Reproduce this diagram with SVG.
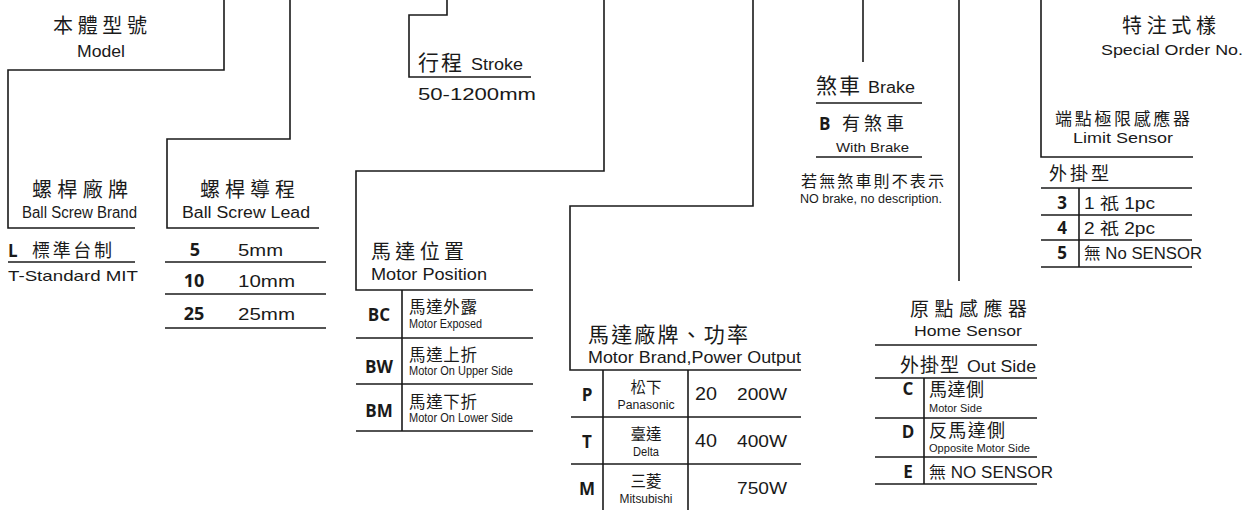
<svg xmlns="http://www.w3.org/2000/svg" width="1256" height="510" viewBox="0 0 1256 510">
<style>
text{font-family:"Liberation Sans","Noto Sans CJK TC",sans-serif;fill:#1a1a1a}
.cn{font-family:"Noto Sans CJK TC","Liberation Sans",sans-serif}
.b{font-family:"Open Sans","Liberation Sans",sans-serif;font-weight:700}
.m{text-anchor:middle}
.ln{stroke:#1a1a1a;stroke-width:1.6;fill:none}
</style>
<rect width="1256" height="510" fill="#fff"/>
<g id="connectors" class="ln">
<polyline points="224,0 224,70 8,70 8,228 135,228"/>
<polyline points="290,0 290,139 167,139 167,228 319,228"/>
<polyline points="447,0 447,15 409,15 409,77 531,77"/>
<polyline points="604,0 604,171 356,171 356,290 533,290"/>
<polyline points="753,0 753,206 570,206 570,370 801,370"/>
<line x1="863" y1="0" x2="863" y2="62"/>
<line x1="959" y1="0" x2="959" y2="281"/>
<polyline points="1041,0 1041,157 1193,157"/>
</g>
<g id="model">
<text class="cn" x="53" y="33" font-size="20" textLength="94">本體型號</text>
<text x="77" y="57" font-size="16" textLength="48" lengthAdjust="spacingAndGlyphs">Model</text>
</g>
<g id="screw-brand">
<text class="cn" x="32" y="197" font-size="20" textLength="96">螺桿廠牌</text>
<text x="22" y="218" font-size="16" textLength="115" lengthAdjust="spacingAndGlyphs">Ball Screw Brand</text>
<text class="b" x="8" y="257" font-size="17">L</text>
<text class="cn" x="32" y="257" font-size="18" textLength="80">標準台制</text>
<line class="ln" x1="8" y1="262" x2="135" y2="262"/>
<text x="8" y="281" font-size="15" textLength="130" lengthAdjust="spacingAndGlyphs">T-Standard MIT</text>
</g>
<g id="screw-lead">
<text class="cn" x="200" y="197" font-size="20" textLength="95">螺桿導程</text>
<text x="182" y="218" font-size="16" textLength="128" lengthAdjust="spacingAndGlyphs">Ball Screw Lead</text>
<text class="b m" x="195" y="256" font-size="18">5</text>
<text x="238" y="256" font-size="16" textLength="45" lengthAdjust="spacingAndGlyphs">5mm</text>
<line class="ln" x1="165" y1="262" x2="326" y2="262"/>
<text class="b m" x="194" y="287" font-size="18">10</text>
<text x="238" y="287" font-size="16" textLength="57" lengthAdjust="spacingAndGlyphs">10mm</text>
<line class="ln" x1="165" y1="294" x2="326" y2="294"/>
<text class="b m" x="194" y="320" font-size="18">25</text>
<text x="238" y="320" font-size="16" textLength="57" lengthAdjust="spacingAndGlyphs">25mm</text>
<line class="ln" x1="165" y1="328" x2="326" y2="328"/>
</g>
<g id="stroke">
<text class="cn" x="418" y="70" font-size="21" textLength="44">行程</text>
<text x="471" y="70" font-size="16" textLength="52" lengthAdjust="spacingAndGlyphs">Stroke</text>
<text x="418" y="100" font-size="17" textLength="118" lengthAdjust="spacingAndGlyphs">50-1200mm</text>
</g>
<g id="motor-position">
<text class="cn" x="371" y="259" font-size="20" textLength="93">馬達位置</text>
<text x="371" y="280" font-size="17" textLength="116" lengthAdjust="spacingAndGlyphs">Motor Position</text>
<g class="ln">
<line x1="356" y1="338" x2="533" y2="338"/>
<line x1="356" y1="384" x2="533" y2="384"/>
<line x1="356" y1="431" x2="533" y2="431"/>
<line x1="402" y1="290" x2="402" y2="431"/>
</g>
<text class="b m" x="379" y="321" font-size="17">BC</text>
<text class="cn" x="409" y="313" font-size="16.5" textLength="68">馬達外露</text>
<text x="409" y="328" font-size="12" textLength="73" lengthAdjust="spacingAndGlyphs">Motor Exposed</text>
<text class="b m" x="379" y="373" font-size="17">BW</text>
<text class="cn" x="409" y="361" font-size="16.5" textLength="68">馬達上折</text>
<text x="409" y="375" font-size="12" textLength="104" lengthAdjust="spacingAndGlyphs">Motor On Upper Side</text>
<text class="b m" x="379" y="417" font-size="17">BM</text>
<text class="cn" x="409" y="408" font-size="16.5" textLength="68">馬達下折</text>
<text x="409" y="422" font-size="12" textLength="104" lengthAdjust="spacingAndGlyphs">Motor On Lower Side</text>
</g>
<g id="motor-brand">
<text class="cn" x="588" y="342" font-size="21" textLength="160">馬達廠牌、功率</text>
<text x="588" y="363" font-size="17" textLength="213" lengthAdjust="spacingAndGlyphs">Motor Brand,Power Output</text>
<g class="ln">
<line x1="571" y1="417" x2="801" y2="417"/>
<line x1="571" y1="464" x2="801" y2="464"/>
<line x1="603" y1="370" x2="603" y2="510"/>
<line x1="688" y1="370" x2="688" y2="510"/>
</g>
<text class="b m" x="587" y="401" font-size="17">P</text>
<text class="cn m" x="646" y="393" font-size="16" textLength="31" lengthAdjust="spacingAndGlyphs">松下</text>
<text class="m" x="646" y="409" font-size="12" textLength="57" lengthAdjust="spacingAndGlyphs">Panasonic</text>
<text x="695" y="400" font-size="18" textLength="22" lengthAdjust="spacingAndGlyphs">20</text>
<text x="737" y="400" font-size="16" textLength="50" lengthAdjust="spacingAndGlyphs">200W</text>
<text class="b m" x="587" y="448" font-size="17">T</text>
<text class="cn m" x="646" y="440" font-size="16" textLength="31" lengthAdjust="spacingAndGlyphs">臺達</text>
<text class="m" x="646" y="456" font-size="12" textLength="26" lengthAdjust="spacingAndGlyphs">Delta</text>
<text x="695" y="447" font-size="18" textLength="22" lengthAdjust="spacingAndGlyphs">40</text>
<text x="737" y="447" font-size="16" textLength="50" lengthAdjust="spacingAndGlyphs">400W</text>
<text class="b m" x="587" y="495" font-size="17">M</text>
<text class="cn m" x="646" y="487" font-size="16" textLength="31" lengthAdjust="spacingAndGlyphs">三菱</text>
<text class="m" x="646" y="503" font-size="12" textLength="53" lengthAdjust="spacingAndGlyphs">Mitsubishi</text>
<text x="737" y="494" font-size="16" textLength="50" lengthAdjust="spacingAndGlyphs">750W</text>
</g>
<g id="brake">
<text class="cn" x="816" y="93" font-size="21" textLength="44">煞車</text>
<text x="868" y="93" font-size="16" textLength="47" lengthAdjust="spacingAndGlyphs">Brake</text>
<line class="ln" x1="816" y1="103" x2="922" y2="103"/>
<text class="b" x="819" y="130" font-size="17">B</text>
<text class="cn" x="842" y="130" font-size="18" textLength="62">有煞車</text>
<text x="836" y="152" font-size="13" textLength="73" lengthAdjust="spacingAndGlyphs">With Brake</text>
<line class="ln" x1="816" y1="157" x2="922" y2="157"/>
<text class="cn" x="801" y="187" font-size="16" textLength="143">若無煞車則不表示</text>
<text x="800" y="203" font-size="12" textLength="142" lengthAdjust="spacingAndGlyphs">NO brake, no description.</text>
</g>
<g id="home-sensor">
<text class="cn" x="910" y="316" font-size="19" textLength="117">原點感應器</text>
<text x="914" y="336" font-size="15" textLength="108" lengthAdjust="spacingAndGlyphs">Home Sensor</text>
<text class="cn" x="900" y="372" font-size="19" textLength="59">外掛型</text>
<text x="967" y="372" font-size="16" textLength="69" lengthAdjust="spacingAndGlyphs">Out Side</text>
<g class="ln">
<line x1="875" y1="345" x2="1037" y2="345"/>
<line x1="875" y1="378" x2="1037" y2="378"/>
<line x1="875" y1="418" x2="1037" y2="418"/>
<line x1="875" y1="457" x2="1037" y2="457"/>
<line x1="875" y1="484" x2="1037" y2="484"/>
<line x1="924" y1="378" x2="924" y2="484"/>
</g>
<text class="b m" x="908" y="395" font-size="17">C</text>
<text class="cn" x="929" y="396" font-size="18" textLength="55">馬達側</text>
<text x="929" y="412" font-size="10" textLength="53" lengthAdjust="spacingAndGlyphs">Motor Side</text>
<text class="b m" x="908" y="438" font-size="17">D</text>
<text class="cn" x="929" y="437" font-size="18" textLength="76">反馬達側</text>
<text x="929" y="452" font-size="10" textLength="101" lengthAdjust="spacingAndGlyphs">Opposite Motor Side</text>
<text class="b m" x="908" y="478" font-size="17">E</text>
<text x="929" y="478" font-size="16" textLength="124" lengthAdjust="spacingAndGlyphs">無 NO SENSOR</text>
</g>
<g id="limit-sensor">
<text class="cn" x="1122" y="33" font-size="20" textLength="94">特注式樣</text>
<text x="1101" y="55" font-size="15" textLength="142" lengthAdjust="spacingAndGlyphs">Special Order No.</text>
<text class="cn" x="1055" y="125" font-size="17" textLength="135">端點極限感應器</text>
<text x="1073" y="143" font-size="15" textLength="100" lengthAdjust="spacingAndGlyphs">Limit Sensor</text>
<text class="cn" x="1049" y="180" font-size="18" textLength="60">外掛型</text>
<g class="ln">
<line x1="1041" y1="188" x2="1192" y2="188"/>
<line x1="1041" y1="215" x2="1192" y2="215"/>
<line x1="1041" y1="240" x2="1192" y2="240"/>
<line x1="1041" y1="267" x2="1192" y2="267"/>
<line x1="1079" y1="188" x2="1079" y2="267"/>
</g>
<text class="b m" x="1062" y="209" font-size="17">3</text>
<text x="1084" y="209" font-size="16" textLength="71" lengthAdjust="spacingAndGlyphs">1 祇 1pc</text>
<text class="b m" x="1062" y="234" font-size="17">4</text>
<text x="1084" y="234" font-size="16" textLength="71" lengthAdjust="spacingAndGlyphs">2 祇 2pc</text>
<text class="b m" x="1062" y="259" font-size="17">5</text>
<text x="1084" y="259" font-size="16" textLength="118" lengthAdjust="spacingAndGlyphs">無 No SENSOR</text>
</g>
</svg>
